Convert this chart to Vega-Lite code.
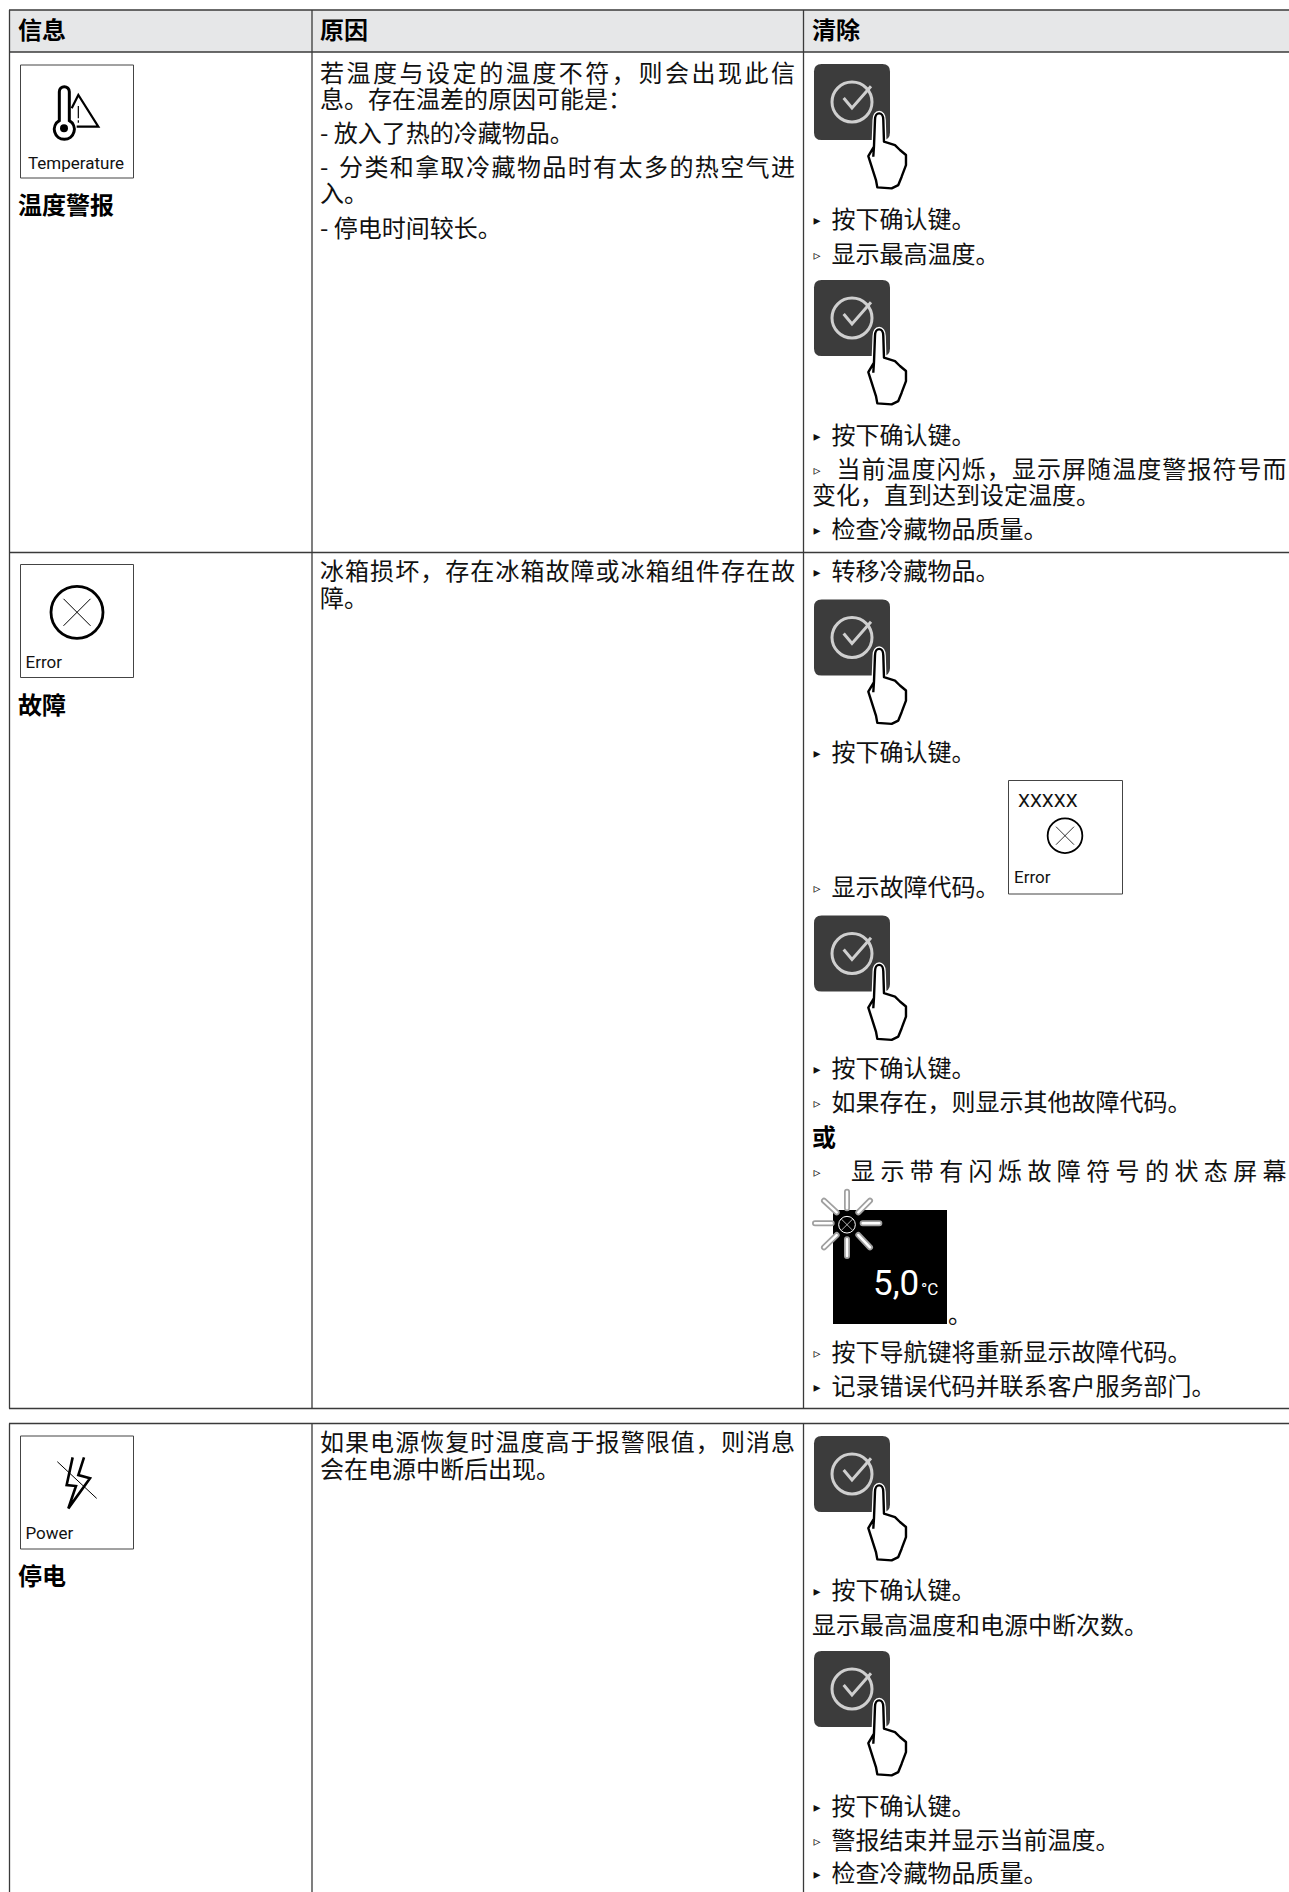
{"$schema":"https://vega.github.io/schema/vega-lite/v6.json","width":1289,"height":1892,"padding":0,"autosize":"none","background":"white","view":{"stroke":null},
"data":{"values":[
{"kind":"head","x":9,"x2":1289,"y":10,"y2":52},
{"kind":"rule","x":9,"x2":1289,"y":10,"y2":10},{"kind":"rule","x":9,"x2":1289,"y":52,"y2":52},{"kind":"rule","x":9,"x2":1289,"y":552.5,"y2":552.5},{"kind":"rule","x":9,"x2":1289,"y":1408.5,"y2":1408.5},{"kind":"rule","x":9,"x2":1289,"y":1423.5,"y2":1423.5},
{"kind":"rule","x":9.5,"x2":9.5,"y":10,"y2":1408.5},{"kind":"rule","x":312,"x2":312,"y":10,"y2":1408.5},{"kind":"rule","x":803.5,"x2":803.5,"y":10,"y2":1408.5},
{"kind":"rule","x":9.5,"x2":9.5,"y":1423.5,"y2":1892},{"kind":"rule","x":312,"x2":312,"y":1423.5,"y2":1892},{"kind":"rule","x":803.5,"x2":803.5,"y":1423.5,"y2":1892},
{"kind":"box","x":20.5,"x2":133.5,"y":65,"y2":178},{"kind":"box","x":20.5,"x2":133.5,"y":564.5,"y2":677.5},{"kind":"box","x":20.5,"x2":133.5,"y":1436,"y2":1549},{"kind":"box","x":1008.5,"x2":1122.5,"y":780.5,"y2":894},
{"kind":"black","x":833,"x2":947,"y":1210,"y2":1324},
{"kind":"bold","x":18,"y":31,"text":"信息"},{"kind":"bold","x":320,"y":31,"text":"原因"},{"kind":"bold","x":812,"y":31,"text":"清除"},
{"kind":"bold","x":18,"y":206.4,"text":"温度警报"},{"kind":"bold","x":18,"y":706,"text":"故障"},{"kind":"bold","x":18,"y":1577.4,"text":"停电"},{"kind":"bold","x":812,"y":1138,"text":"或"},
{"kind":"label","x":28,"y":164,"text":"Temperature"},{"kind":"label","x":25.5,"y":662.5,"text":"Error"},{"kind":"label","x":25.5,"y":1533.5,"text":"Power"},{"kind":"label","x":1014,"y":878,"text":"Error"},
{"kind":"xs","x":1018,"y":800.7,"text":"XXXXX"},
{"kind":"temp","x":873,"y":1284,"text":"5,0"},{"kind":"unit","x":921,"y":1290,"text":"°C"},
{"kind":"body","x":320,"y":100.2,"text":"息。存在温差的原因可能是："},
{"kind":"body","x":320,"y":134,"text":"- 放入了热的冷藏物品。"},
{"kind":"body","x":320,"y":167.8,"text":"-"},
{"kind":"body","x":320,"y":194.3,"text":"入。"},
{"kind":"body","x":320,"y":229.3,"text":"- 停电时间较长。"},
{"kind":"body","x":320,"y":598.6,"text":"障。"},
{"kind":"body","x":320,"y":1470,"text":"会在电源中断后出现。"},
{"kind":"bullet","x":817,"y":219.7,"text":"▸"},{"kind":"body","x":831.5,"y":219.7,"text":"按下确认键。"},
{"kind":"bullet","x":817,"y":254.7,"text":"▹"},{"kind":"body","x":831.5,"y":254.7,"text":"显示最高温度。"},
{"kind":"bullet","x":817,"y":435.7,"text":"▸"},{"kind":"body","x":831.5,"y":435.7,"text":"按下确认键。"},
{"kind":"bullet","x":817,"y":469.5,"text":"▹"},
{"kind":"body","x":812,"y":496,"text":"变化，直到达到设定温度。"},
{"kind":"bullet","x":817,"y":529.8,"text":"▸"},{"kind":"body","x":831.5,"y":529.8,"text":"检查冷藏物品质量。"},
{"kind":"bullet","x":817,"y":572,"text":"▸"},{"kind":"body","x":831.5,"y":572,"text":"转移冷藏物品。"},
{"kind":"bullet","x":817,"y":753.1,"text":"▸"},{"kind":"body","x":831.5,"y":753.1,"text":"按下确认键。"},
{"kind":"bullet","x":817,"y":888.3,"text":"▹"},{"kind":"body","x":831.5,"y":888.3,"text":"显示故障代码。"},
{"kind":"bullet","x":817,"y":1069.3,"text":"▸"},{"kind":"body","x":831.5,"y":1069.3,"text":"按下确认键。"},
{"kind":"bullet","x":817,"y":1103.1,"text":"▹"},{"kind":"body","x":831.5,"y":1103.1,"text":"如果存在，则显示其他故障代码。"},
{"kind":"bullet","x":817,"y":1171.9,"text":"▹"},
{"kind":"body","x":948,"y":1315,"text":"。"},
{"kind":"bullet","x":817,"y":1353,"text":"▹"},{"kind":"body","x":831.5,"y":1353,"text":"按下导航键将重新显示故障代码。"},
{"kind":"bullet","x":817,"y":1386.8,"text":"▸"},{"kind":"body","x":831.5,"y":1386.8,"text":"记录错误代码并联系客户服务部门。"},
{"kind":"bullet","x":817,"y":1590.7,"text":"▸"},{"kind":"body","x":831.5,"y":1590.7,"text":"按下确认键。"},
{"kind":"body","x":812,"y":1625.7,"text":"显示最高温度和电源中断次数。"},
{"kind":"bullet","x":817,"y":1806.7,"text":"▸"},{"kind":"body","x":831.5,"y":1806.7,"text":"按下确认键。"},
{"kind":"bullet","x":817,"y":1840.5,"text":"▹"},{"kind":"body","x":831.5,"y":1840.5,"text":"警报结束并显示当前温度。"},
{"kind":"bullet","x":817,"y":1874.3,"text":"▸"},{"kind":"body","x":831.5,"y":1874.3,"text":"检查冷藏物品质量。"},

{"kind":"body","y":73.6,"x":320,"text":"若"},{"kind":"body","y":73.6,"x":346.5,"text":"温"},{"kind":"body","y":73.6,"x":373.1,"text":"度"},{"kind":"body","y":73.6,"x":399.6,"text":"与"},{"kind":"body","y":73.6,"x":426.1,"text":"设"},{"kind":"body","y":73.6,"x":452.6,"text":"定"},{"kind":"body","y":73.6,"x":479.2,"text":"的"},{"kind":"body","y":73.6,"x":505.7,"text":"温"},{"kind":"body","y":73.6,"x":532.2,"text":"度"},{"kind":"body","y":73.6,"x":558.8,"text":"不"},{"kind":"body","y":73.6,"x":585.3,"text":"符"},{"kind":"body","y":73.6,"x":611.8,"text":"，"},{"kind":"body","y":73.6,"x":638.4,"text":"则"},{"kind":"body","y":73.6,"x":664.9,"text":"会"},{"kind":"body","y":73.6,"x":691.4,"text":"出"},{"kind":"body","y":73.6,"x":717.9,"text":"现"},{"kind":"body","y":73.6,"x":744.5,"text":"此"},{"kind":"body","y":73.6,"x":771,"text":"信"},

{"kind":"body","y":167.8,"x":339,"text":"分"},{"kind":"body","y":167.8,"x":364.4,"text":"类"},{"kind":"body","y":167.8,"x":389.8,"text":"和"},{"kind":"body","y":167.8,"x":415.2,"text":"拿"},{"kind":"body","y":167.8,"x":440.6,"text":"取"},{"kind":"body","y":167.8,"x":466.1,"text":"冷"},{"kind":"body","y":167.8,"x":491.5,"text":"藏"},{"kind":"body","y":167.8,"x":516.9,"text":"物"},{"kind":"body","y":167.8,"x":542.3,"text":"品"},{"kind":"body","y":167.8,"x":567.7,"text":"时"},{"kind":"body","y":167.8,"x":593.1,"text":"有"},{"kind":"body","y":167.8,"x":618.5,"text":"太"},{"kind":"body","y":167.8,"x":643.9,"text":"多"},{"kind":"body","y":167.8,"x":669.4,"text":"的"},{"kind":"body","y":167.8,"x":694.8,"text":"热"},{"kind":"body","y":167.8,"x":720.2,"text":"空"},{"kind":"body","y":167.8,"x":745.6,"text":"气"},{"kind":"body","y":167.8,"x":771,"text":"进"},

{"kind":"body","y":572,"x":320,"text":"冰"},{"kind":"body","y":572,"x":345.1,"text":"箱"},{"kind":"body","y":572,"x":370.1,"text":"损"},{"kind":"body","y":572,"x":395.2,"text":"坏"},{"kind":"body","y":572,"x":420.2,"text":"，"},{"kind":"body","y":572,"x":445.3,"text":"存"},{"kind":"body","y":572,"x":470.3,"text":"在"},{"kind":"body","y":572,"x":495.4,"text":"冰"},{"kind":"body","y":572,"x":520.4,"text":"箱"},{"kind":"body","y":572,"x":545.5,"text":"故"},{"kind":"body","y":572,"x":570.6,"text":"障"},{"kind":"body","y":572,"x":595.6,"text":"或"},{"kind":"body","y":572,"x":620.7,"text":"冰"},{"kind":"body","y":572,"x":645.7,"text":"箱"},{"kind":"body","y":572,"x":670.8,"text":"组"},{"kind":"body","y":572,"x":695.8,"text":"件"},{"kind":"body","y":572,"x":720.9,"text":"存"},{"kind":"body","y":572,"x":745.9,"text":"在"},{"kind":"body","y":572,"x":771,"text":"故"},

{"kind":"body","y":1443.4,"x":320,"text":"如"},{"kind":"body","y":1443.4,"x":345.1,"text":"果"},{"kind":"body","y":1443.4,"x":370.1,"text":"电"},{"kind":"body","y":1443.4,"x":395.2,"text":"源"},{"kind":"body","y":1443.4,"x":420.2,"text":"恢"},{"kind":"body","y":1443.4,"x":445.3,"text":"复"},{"kind":"body","y":1443.4,"x":470.3,"text":"时"},{"kind":"body","y":1443.4,"x":495.4,"text":"温"},{"kind":"body","y":1443.4,"x":520.4,"text":"度"},{"kind":"body","y":1443.4,"x":545.5,"text":"高"},{"kind":"body","y":1443.4,"x":570.6,"text":"于"},{"kind":"body","y":1443.4,"x":595.6,"text":"报"},{"kind":"body","y":1443.4,"x":620.7,"text":"警"},{"kind":"body","y":1443.4,"x":645.7,"text":"限"},{"kind":"body","y":1443.4,"x":670.8,"text":"值"},{"kind":"body","y":1443.4,"x":695.8,"text":"，"},{"kind":"body","y":1443.4,"x":720.9,"text":"则"},{"kind":"body","y":1443.4,"x":745.9,"text":"消"},{"kind":"body","y":1443.4,"x":771,"text":"息"},

{"kind":"body","y":469.5,"x":836.4,"text":"当"},{"kind":"body","y":469.5,"x":861.5,"text":"前"},{"kind":"body","y":469.5,"x":886.5,"text":"温"},{"kind":"body","y":469.5,"x":911.6,"text":"度"},{"kind":"body","y":469.5,"x":936.7,"text":"闪"},{"kind":"body","y":469.5,"x":961.8,"text":"烁"},{"kind":"body","y":469.5,"x":986.8,"text":"，"},{"kind":"body","y":469.5,"x":1011.9,"text":"显"},{"kind":"body","y":469.5,"x":1037,"text":"示"},{"kind":"body","y":469.5,"x":1062,"text":"屏"},{"kind":"body","y":469.5,"x":1087.1,"text":"随"},{"kind":"body","y":469.5,"x":1112.2,"text":"温"},{"kind":"body","y":469.5,"x":1137.2,"text":"度"},{"kind":"body","y":469.5,"x":1162.3,"text":"警"},{"kind":"body","y":469.5,"x":1187.4,"text":"报"},{"kind":"body","y":469.5,"x":1212.5,"text":"符"},{"kind":"body","y":469.5,"x":1237.5,"text":"号"},{"kind":"body","y":469.5,"x":1262.6,"text":"而"},

{"kind":"body","y":1171.9,"x":851,"text":"显"},{"kind":"body","y":1171.9,"x":880.4,"text":"示"},{"kind":"body","y":1171.9,"x":909.8,"text":"带"},{"kind":"body","y":1171.9,"x":939.2,"text":"有"},{"kind":"body","y":1171.9,"x":968.6,"text":"闪"},{"kind":"body","y":1171.9,"x":998,"text":"烁"},{"kind":"body","y":1171.9,"x":1027.4,"text":"故"},{"kind":"body","y":1171.9,"x":1056.8,"text":"障"},{"kind":"body","y":1171.9,"x":1086.2,"text":"符"},{"kind":"body","y":1171.9,"x":1115.6,"text":"号"},{"kind":"body","y":1171.9,"x":1145,"text":"的"},{"kind":"body","y":1171.9,"x":1174.4,"text":"状"},{"kind":"body","y":1171.9,"x":1203.8,"text":"态"},{"kind":"body","y":1171.9,"x":1233.2,"text":"屏"},{"kind":"body","y":1171.9,"x":1262.6,"text":"幕"},

{"kind":"btn","x":852,"y":102},{"kind":"btn","x":852,"y":318},{"kind":"btn","x":852,"y":637.5},{"kind":"btn","x":852,"y":953.5},{"kind":"btn","x":852,"y":1474},{"kind":"btn","x":852,"y":1689},
{"kind":"thermo","x":75,"y":108.3},
{"kind":"errBig","x":77,"y":612.3},{"kind":"errSmall","x":1065,"y":835.7},{"kind":"errTiny","x":847,"y":1224.7},
{"kind":"power","x":77,"y":1482.7}
]},
"encoding":{"x":{"field":"x","type":"quantitative","scale":{"domain":[0,1289],"nice":false,"zero":false},"axis":null},"y":{"field":"y","type":"quantitative","scale":{"domain":[1892,0],"nice":false,"zero":false},"axis":null}},
"layer":[
{"transform":[{"filter":"datum.kind=='head'"}],"mark":{"type":"rect","fill":"#e6e7e8"},"encoding":{"x2":{"field":"x2"},"y2":{"field":"y2"}}},
{"transform":[{"filter":"datum.kind=='rule'"}],"mark":{"type":"rule","stroke":"#3a3a3a","strokeWidth":1.3},"encoding":{"x2":{"field":"x2"},"y2":{"field":"y2"}}},
{"transform":[{"filter":"datum.kind=='box'"}],"mark":{"type":"rect","fill":null,"stroke":"#444444","strokeWidth":1},"encoding":{"x2":{"field":"x2"},"y2":{"field":"y2"}}},
{"transform":[{"filter":"datum.kind=='black'"}],"mark":{"type":"rect","fill":"#000000"},"encoding":{"x2":{"field":"x2"},"y2":{"field":"y2"}}},
{"transform":[{"filter":"datum.kind=='body'"}],"mark":{"type":"text","align":"left","baseline":"middle","dy":1,"font":"Noto Sans CJK SC","fontSize":24,"fill":"#111111"},"encoding":{"text":{"field":"text"}}},
{"transform":[{"filter":"datum.kind=='bold'"}],"mark":{"type":"text","align":"left","baseline":"middle","dy":1,"font":"Noto Sans CJK SC","fontSize":24,"fontWeight":"bold","fill":"#000000"},"encoding":{"text":{"field":"text"}}},
{"transform":[{"filter":"datum.kind=='bullet'"}],"mark":{"type":"text","align":"center","baseline":"middle","dy":1,"font":"DejaVu Sans","fontSize":14,"fill":"#111111"},"encoding":{"text":{"field":"text"}}},
{"transform":[{"filter":"datum.kind=='label'"}],"mark":{"type":"text","align":"left","baseline":"middle","font":"Roboto","fontSize":17,"fill":"#111111"},"encoding":{"text":{"field":"text"}}},
{"transform":[{"filter":"datum.kind=='xs'"}],"mark":{"type":"text","align":"left","baseline":"middle","font":"Roboto","fontSize":19,"fill":"#111111"},"encoding":{"text":{"field":"text"}}},
{"transform":[{"filter":"datum.kind=='btn'"}],"mark":{"type":"point","shape":"M-.8,-1L.8,-1Q1,-1 1,-.8L1,.8Q1,1 .8,1L-.8,1Q-1,1 -1,.8L-1,-.8Q-1,-1 -.8,-1Z","filled":true,"fill":"#3c3c3c","stroke":null,"opacity":1,"size":5776}},
{"transform":[{"filter":"datum.kind=='btn'"}],"mark":{"type":"point","shape":"circle","filled":false,"stroke":"#cfcfcf","strokeWidth":3,"opacity":1,"size":1600}},
{"transform":[{"filter":"datum.kind=='btn'"}],"mark":{"type":"point","shape":"M-.385,-.185L0,.277L.877,-.723","filled":false,"stroke":"#cfcfcf","strokeWidth":3,"opacity":1,"size":1878}},
{"transform":[{"filter":"datum.kind=='btn'"}],"mark":{"type":"point","shape":"M-.327,-.814C-.327,-1.05 -.106,-1.05 -.106,-.814L-.088,-.239L.204,-.15L.336,-.018L.496,.115L.496,.381L.381,.69L.292,.912L.115,1L-.265,.973L-.301,.78L-.504,.142L-.354,-.106Z","filled":true,"fill":"#ffffff","stroke":"#ffffff","strokeWidth":5,"opacity":1,"size":5675,"xOffset":35.3,"yOffset":48.7}},
{"transform":[{"filter":"datum.kind=='btn'"}],"mark":{"type":"point","shape":"M-.327,-.814C-.327,-1.05 -.106,-1.05 -.106,-.814L-.088,-.239L.204,-.15L.336,-.018L.496,.115L.496,.381L.381,.69L.292,.912L.115,1L-.265,.973L-.301,.78L-.504,.142L-.354,-.106ZM-.354,-.106L-.372,.16","filled":true,"fill":"#ffffff","stroke":"#000000","strokeWidth":2.4,"strokeJoin":"round","opacity":1,"size":5675,"xOffset":35.3,"yOffset":48.7}},
{"transform":[{"filter":"datum.kind=='thermo'"}],"mark":{"type":"point","shape":"M-.627,.493L-.627,-.667A.2,.2 0 0 1 -.227,-.667L-.227,.493A.4,.4 0 1 1 -.627,.493Z","filled":false,"stroke":"#000000","strokeWidth":3,"opacity":1,"size":2500}},
{"transform":[{"filter":"datum.kind=='thermo'"}],"mark":{"type":"point","shape":"circle","filled":true,"fill":"#000000","stroke":null,"opacity":1,"size":64,"xOffset":-11,"yOffset":20}},
{"transform":[{"filter":"datum.kind=='thermo'"}],"mark":{"type":"point","shape":"M-.133,0L.133,-.533L.933,.733L.067,.733","filled":false,"stroke":"#000000","strokeWidth":2.2,"opacity":1,"size":2500}},
{"transform":[{"filter":"datum.kind=='thermo'"}],"mark":{"type":"point","shape":"M.133,-.093L.133,.4M.133,.48L.133,.573","filled":false,"stroke":"#000000","strokeWidth":1.2,"opacity":1,"size":2500}},
{"transform":[{"filter":"datum.kind=='errBig'"}],"mark":{"type":"point","shape":"circle","filled":false,"stroke":"#000000","strokeWidth":2.8,"opacity":1,"size":2704}},
{"transform":[{"filter":"datum.kind=='errBig'"}],"mark":{"type":"point","shape":"M-1,-1L1,1M-1,1L1,-1","filled":false,"stroke":"#000000","strokeWidth":1,"opacity":1,"size":729}},
{"transform":[{"filter":"datum.kind=='errSmall'"}],"mark":{"type":"point","shape":"circle","filled":false,"stroke":"#000000","strokeWidth":1.8,"opacity":1,"size":1204}},
{"transform":[{"filter":"datum.kind=='errSmall'"}],"mark":{"type":"point","shape":"M-1,-1L1,1M-1,1L1,-1","filled":false,"stroke":"#000000","strokeWidth":0.8,"opacity":1,"size":324}},
{"transform":[{"filter":"datum.kind=='errTiny'"}],"mark":{"type":"point","shape":"M0,-.99L0,-.49M0,.44L0,.94M-.96,-.04L-.46,-.04M.47,-.04L.97,-.04M-.69,-.72L-.31,-.37M.69,-.72L.34,-.37M-.69,.68L-.31,.31M.34,.31L.69,.68","filled":false,"stroke":"#a0a0a0","strokeWidth":6,"strokeCap":"round","opacity":1,"size":4444}},
{"transform":[{"filter":"datum.kind=='errTiny'"}],"mark":{"type":"point","shape":"M0,-.99L0,-.49M0,.44L0,.94M-.96,-.04L-.46,-.04M.47,-.04L.97,-.04M-.69,-.72L-.31,-.37M.69,-.72L.34,-.37M-.69,.68L-.31,.31M.34,.31L.69,.68","filled":false,"stroke":"#ffffff","strokeWidth":2.5,"strokeCap":"round","opacity":1,"size":4444}},
{"transform":[{"filter":"datum.kind=='errTiny'"}],"mark":{"type":"point","shape":"circle","filled":false,"stroke":"#ffffff","strokeWidth":1,"opacity":1,"size":278}},
{"transform":[{"filter":"datum.kind=='errTiny'"}],"mark":{"type":"point","shape":"M-1,-1L1,1M-1,1L1,-1","filled":false,"stroke":"#ffffff","strokeWidth":0.7,"opacity":1,"size":121}},
{"transform":[{"filter":"datum.kind=='temp'"}],"mark":{"type":"text","align":"left","baseline":"middle","font":"Roboto","fontSize":35,"fill":"#ffffff"},"encoding":{"text":{"field":"text"}}},
{"transform":[{"filter":"datum.kind=='unit'"}],"mark":{"type":"text","align":"left","baseline":"middle","font":"Roboto","fontSize":17,"fill":"#ffffff"},"encoding":{"text":{"field":"text"}}},
{"transform":[{"filter":"datum.kind=='power'"}],"mark":{"type":"point","shape":"M-.163,-.95L-.388,.088L-.038,.125L-.325,.963L.488,-.163L.05,-.288L.263,-.95","filled":false,"stroke":"#000000","strokeWidth":2.6,"opacity":1,"size":2844}},
{"transform":[{"filter":"datum.kind=='power'"}],"mark":{"type":"point","shape":"M-.738,-.788L.738,.588","filled":false,"stroke":"#000000","strokeWidth":1,"opacity":1,"size":2844}}
]}
